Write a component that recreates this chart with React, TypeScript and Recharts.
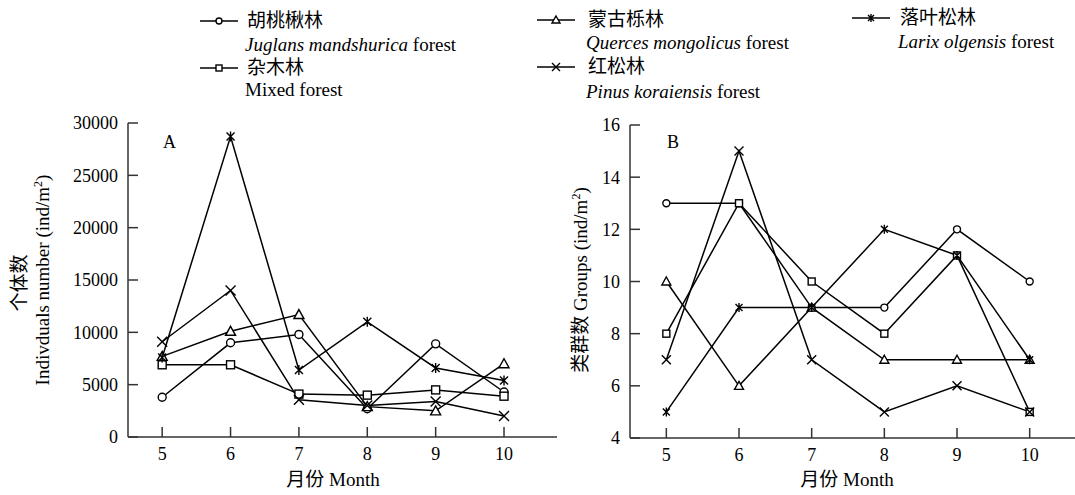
import { LineChart, Line, XAxis, YAxis } from 'recharts'

const months = [5, 6, 7, 8, 9, 10]

// A: individuals number (ind/m2)
const juglansA = [3800, 9000, 9800, 2700, 8900, 4300]
const mixedA = [6900, 6900, 4100, 4000, 4500, 3900]
const quercusA = [7700, 10100, 11700, 2900, 2500, 7000]
const pinusA = [9100, 14000, 3550, 3000, 3400, 2000]
const larixA = [7600, 28700, 6400, 11000, 6600, 5400]

// B: groups
const juglansB = [13, 13, 9, 9, 12, 10]
const mixedB = [8, 13, 10, 8, 11, 5]
const quercusB = [10, 6, 9, 7, 7, 7]
const pinusB = [7, 15, 7, 5, 6, 5]
const larixB = [5, 9, 9, 12, 11, 7]

const ticksA = [0, 5000, 10000, 15000, 20000, 25000, 30000]
const ticksB = [4, 6, 8, 10, 12, 14, 16]

const FONT = '"Liberation Serif", "Times New Roman", "Noto Sans CJK SC", serif'
const X_DOMAIN: [number, number] = [4.5, 10.775]

type Shape = 'circle' | 'square' | 'triangle' | 'cross' | 'star'

const series: { key: string; shape: Shape; a: number[]; b: number[]; cn: string; it: string; en: string }[] = [
  { key: 'juglans', shape: 'circle', a: juglansA, b: juglansB, cn: '胡桃楸林', it: 'Juglans mandshurica', en: ' forest' },
  { key: 'mixed', shape: 'square', a: mixedA, b: mixedB, cn: '杂木林', it: '', en: 'Mixed forest' },
  { key: 'quercus', shape: 'triangle', a: quercusA, b: quercusB, cn: '蒙古栎林', it: 'Querces mongolicus', en: ' forest' },
  { key: 'pinus', shape: 'cross', a: pinusA, b: pinusB, cn: '红松林', it: 'Pinus koraiensis', en: ' forest' },
  { key: 'larix', shape: 'star', a: larixA, b: larixB, cn: '落叶松林', it: 'Larix olgensis', en: ' forest' },
]

// legend placement (left of marker, text left, row centres)
const legendPos: Record<string, { mx: number; tx: number; y1: number; y2: number }> = {
  juglans: { mx: 200, tx: 247, y1: 21, y2: 45 },
  mixed: { mx: 200, tx: 247, y1: 68, y2: 90 },
  quercus: { mx: 537, tx: 588, y1: 20, y2: 43 },
  pinus: { mx: 537, tx: 588, y1: 67, y2: 92 },
  larix: { mx: 852, tx: 900, y1: 18, y2: 42 },
}

const dataA = months.map((m, i) => {
  const row: Record<string, number> = { month: m }
  series.forEach(s => { row[s.key] = s.a[i] })
  return row
})

const dataB = months.map((m, i) => {
  const row: Record<string, number> = { month: m }
  series.forEach(s => { row[s.key] = s.b[i] })
  return row
})

function Marker({ shape, cx, cy, s }: { shape: Shape; cx: number; cy: number; s: number }) {
  const h = s / 2
  const st = { stroke: '#000', strokeWidth: 1.4 }
  switch (shape) {
    case 'circle':
      return <circle cx={cx} cy={cy} r={h} fill="#fff" {...st} />
    case 'square':
      return <rect x={cx - h} y={cy - h} width={s} height={s} fill="#fff" {...st} />
    case 'triangle':
      return <polygon points={`${cx},${cy - h - 1} ${cx + h + 1},${cy + h} ${cx - h - 1},${cy + h}`} fill="#fff" {...st} />
    case 'cross':
      return <path d={`M${cx - h - 1},${cy - h - 1}L${cx + h + 1},${cy + h + 1}M${cx + h + 1},${cy - h - 1}L${cx - h - 1},${cy + h + 1}`} fill="none" {...st} />
    default:
      return <path d={`M${cx - h},${cy - h}L${cx + h},${cy + h}M${cx + h},${cy - h}L${cx - h},${cy + h}M${cx},${cy - h - 1}L${cx},${cy + h + 1}`} fill="none" {...st} />
  }
}

const dotFor = (shape: Shape, s: number) => (p: any) => (
  <g key={`${shape}-${p.index}`}>
    <Marker shape={shape} cx={p.cx} cy={p.cy} s={s} />
  </g>
)

const tickStyle = { fontSize: 18, fill: '#000', fontFamily: FONT }
const axisLine = { stroke: '#333', strokeWidth: 1.5 }

function Panel({ data, ticks, domain, left, width, top, yWidth, xHeight, right, s }: any) {
  return (
    <div style={{ position: 'absolute', left, top: 0 }}>
      <LineChart width={width} height={495} data={data} margin={{ top, right, bottom: 0, left: 0 }}>
        <XAxis
          type="number"
          dataKey="month"
          domain={X_DOMAIN}
          ticks={months}
          allowDataOverflow
          height={xHeight}
          tick={tickStyle}
          axisLine={axisLine}
          tickLine={axisLine}
          tickSize={-10}
          tickMargin={20}
        />
        <YAxis
          type="number"
          domain={domain}
          ticks={ticks}
          allowDataOverflow
          width={yWidth}
          tick={tickStyle}
          axisLine={axisLine}
          tickLine={axisLine}
          tickSize={-10}
          tickMargin={20}
        />
        {series.map(sr => (
          <Line
            key={sr.key}
            dataKey={sr.key}
            stroke="#000"
            strokeWidth={1.5}
            dot={dotFor(sr.shape, s)}
            activeDot={false}
            isAnimationActive={false}
          />
        ))}
      </LineChart>
    </div>
  )
}

const txt = (x: number, y: number, extra: any = {}) => ({
  position: 'absolute' as const,
  left: x,
  top: y - 11,
  lineHeight: '22px',
  fontSize: 19,
  whiteSpace: 'nowrap' as const,
  fontFamily: FONT,
  color: '#000',
  ...extra,
})

const vText = (cx: number, cy: number) => ({
  position: 'absolute' as const,
  left: cx,
  top: cy,
  transform: 'translate(-50%, -50%) rotate(-90deg)',
  lineHeight: '22px',
  fontSize: 19,
  whiteSpace: 'nowrap' as const,
  fontFamily: FONT,
  color: '#000',
})

export default function App() {
  return (
    <div style={{ position: 'absolute', left: 0, top: 0, width: 1075, height: 495, overflow: 'hidden', background: '#fff', fontFamily: FONT }}>
      {/* legend */}
      {series.map(sr => {
        const p = legendPos[sr.key]
        return (
          <div key={sr.key}>
            <svg style={{ position: 'absolute', left: p.mx, top: p.y1 - 7 }} width={38} height={14}>
              <line x1={0} y1={7} x2={38} y2={7} stroke="#000" strokeWidth={1.5} />
              <Marker shape={sr.shape} cx={19} cy={7} s={6} />
            </svg>
            <div style={txt(p.tx, p.y1)}>{sr.cn}</div>
            <div style={txt(p.tx - 2, p.y2)}>
              {sr.it && <i>{sr.it}</i>}
              {sr.en}
            </div>
          </div>
        )
      })}

      <Panel data={dataA} ticks={ticksA} domain={[0, 30000]} left={0} width={570} top={123} right={13} yWidth={128} xHeight={58} s={8} />
      <Panel data={dataB} ticks={ticksB} domain={[4, 16]} left={540} width={546} top={125} right={0} yWidth={90} xHeight={57} s={7} />

      <div style={txt(163, 142, { fontSize: 18 })}>A</div>
      <div style={txt(667, 142, { fontSize: 18 })}>B</div>

      <div style={vText(20, 283)}>个体数</div>
      <div style={vText(43, 280)}>
        Indivduals number (ind/m<sup style={{ fontSize: 12, lineHeight: 0 }}>2</sup>)
      </div>
      <div style={vText(581, 280)}>
        类群数 Groups (ind/m<sup style={{ fontSize: 12, lineHeight: 0 }}>2</sup>)
      </div>

      <div style={{ ...txt(333, 480), transform: 'translateX(-50%)' }}>月份 Month</div>
      <div style={{ ...txt(847, 480), transform: 'translateX(-50%)' }}>月份 Month</div>
    </div>
  )
}
